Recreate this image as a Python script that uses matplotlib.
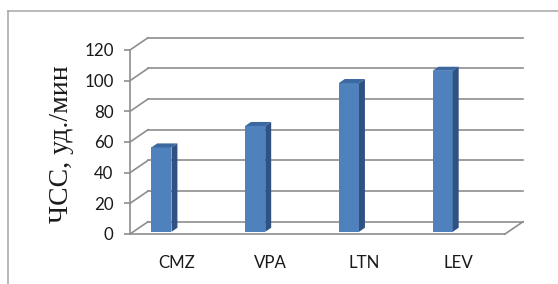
import matplotlib
matplotlib.use("Agg")
import matplotlib.pyplot as plt
from matplotlib.lines import Line2D
from matplotlib.patches import Polygon

categories = ["CMZ", "VPA", "LTN", "LEV"]
hr_values = [55, 69, 97, 105]
y_ticks = [0, 20, 40, 60, 80, 100, 120]

# pseudo-3D look (Excel style column chart)
DEPTH_X = 0.192      # back wall shift in category units
DEPTH_Y = 8.0        # back wall shift in value units
BAR_FRONT = 0.18     # depth of bar front face (fraction of floor depth)
BAR_BACK = 0.51
BAR_SHIFT = -0.165
BAR_WIDTH = 0.215

GRID = "#8e8e8e"
FRONT = "#4f81bd"
SIDE = "#2f5283"
TOP = "#3c68a0"

fig = plt.figure(figsize=(5.58, 2.84), dpi=100)
ax = fig.add_axes([130 / 558, 50 / 284, 375 / 558, 184 / 284])
ax.set_xlim(-0.5, len(categories) - 0.5)
ax.set_ylim(0, 120)

x_lo, x_hi = -0.5, len(categories) - 0.5
for v in y_ticks:
    ax.plot([x_lo + DEPTH_X, x_hi + DEPTH_X], [v + DEPTH_Y, v + DEPTH_Y],
            color=GRID, lw=1.2, clip_on=False, zorder=1)
    ax.plot([x_lo, x_lo + DEPTH_X], [v, v + DEPTH_Y],
            color=GRID, lw=1.2, clip_on=False, zorder=1)
ax.plot([x_lo, x_hi], [0, 0], color=GRID, lw=1.2, clip_on=False, zorder=1)
ax.plot([x_hi, x_hi + DEPTH_X], [0, DEPTH_Y], color=GRID, lw=1.2, clip_on=False, zorder=1)

xs = [i + BAR_SHIFT for i in range(len(categories))]
y0 = BAR_FRONT * DEPTH_Y
ddx = (BAR_BACK - BAR_FRONT) * DEPTH_X
ddy = (BAR_BACK - BAR_FRONT) * DEPTH_Y
ax.bar(xs, hr_values, width=BAR_WIDTH, bottom=y0, color=FRONT, zorder=3, clip_on=False)
for x, v in zip(xs, hr_values):
    l, r = x - BAR_WIDTH / 2, x + BAR_WIDTH / 2
    t = v + y0
    side = Polygon([(r, y0), (r + ddx, y0 + ddy), (r + ddx, t + ddy), (r, t)],
                   closed=True, fc=SIDE, ec="none", zorder=3, clip_on=False)
    top = Polygon([(l, t), (l + ddx, t + ddy), (r + ddx, t + ddy), (r, t)],
                  closed=True, fc=TOP, ec="none", zorder=3, clip_on=False)
    ax.add_patch(side)
    ax.add_patch(top)

for name in ["top", "right", "bottom"]:
    ax.spines[name].set_visible(False)
ax.spines["left"].set_color(GRID)
ax.spines["left"].set_linewidth(1.2)

ax.set_yticks(y_ticks)
ax.set_yticklabels([str(v) for v in y_ticks], fontfamily="Lato", fontsize=12.2, color="#1a1a1a")
ax.tick_params(axis="y", length=4.3, width=1.2, color=GRID, pad=7.5)
ax.set_xticks(range(len(categories)))
ax.set_xticklabels(categories, fontfamily="Lato", fontsize=12.2, color="#1a1a1a")
ax.tick_params(axis="x", length=0, pad=15)

fig.text(62 / 558, 1 - 144 / 284, "ЧСС, уд./мин", rotation=90, ha="center", va="center",
         fontfamily="Liberation Serif", fontsize=20, color="#1a1a1a")

# chart area frame (only top and left edges are inside the picture)
fig.add_artist(Line2D([8 / 558, 8 / 558], [0, 1 - 11 / 284], color="#a6a6a6", lw=1.1))
fig.add_artist(Line2D([8 / 558, 1], [1 - 11 / 284, 1 - 11 / 284], color="#a6a6a6", lw=1.1))

fig.savefig("out.png", dpi=100)
